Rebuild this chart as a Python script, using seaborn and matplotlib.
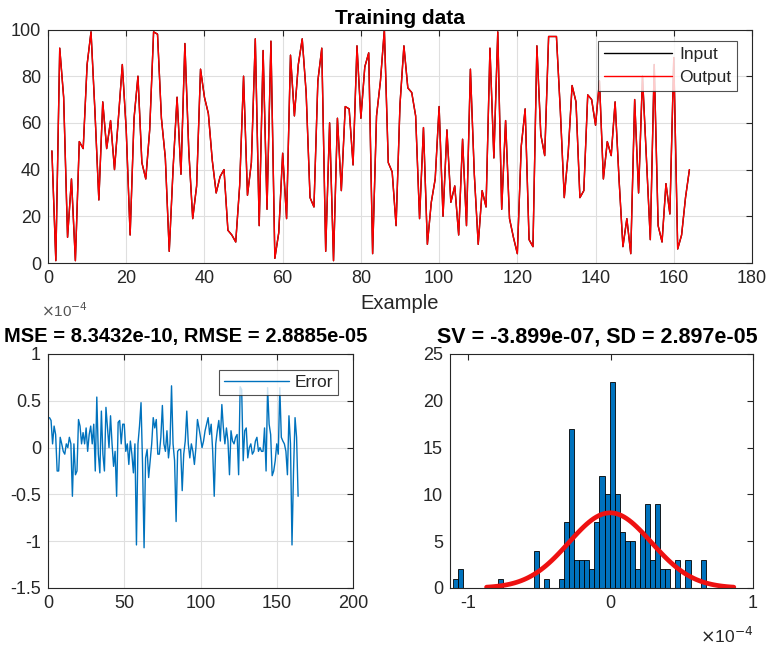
import numpy as np
import pandas as pd
import matplotlib
matplotlib.use("Agg")
import matplotlib.pyplot as plt
import seaborn as sns

# ---------------- data ----------------
example_idx = list(range(1, 165))

output_vals = [
    48, 1, 92, 71, 11, 36, 1, 52, 49, 85,
    99, 65, 27, 69, 49, 61, 40, 62, 85, 57,
    12, 62, 80, 43, 36, 57, 99, 98, 62, 45,
    5, 41, 71, 38, 94, 48, 19, 33, 83, 71,
    64, 44, 30, 37, 40, 14, 12, 9, 33, 80,
    29, 43, 96, 16, 91, 23, 95, 2, 13, 47,
    19, 89, 63, 85, 96, 73, 28, 24, 78, 92,
    5, 60, 1, 62, 31, 67, 66, 42, 93, 62,
    84, 90, 4, 63, 78, 100, 43, 39, 16, 68,
    93, 75, 73, 63, 19, 58, 8, 26, 36, 67,
    20, 57, 26, 33, 12, 53, 16, 83, 38, 8,
    31, 24, 92, 45, 99, 23, 61, 19, 11, 4,
    50, 66, 10, 7, 93, 55, 46, 97, 97, 97,
    65, 28, 47, 76, 69, 28, 31, 72, 70, 59,
    78, 36, 52, 46, 69, 36, 7, 19, 4, 70,
    30, 80, 45, 10, 85, 16, 9, 34, 21, 88,
    6, 12, 28, 40,
]
# the Input trace lies exactly under the Output trace in the reference
input_vals = list(output_vals)

# reconstruction error, in units of 1e-4
error_e4 = [
    0.32, 0.29, 0.04, 0.23, 0.14, -0.25, -0.25, 0.11, 0.04, -0.04,
    -0.07, 0.04, 0.00, 0.11, 0.04, -0.52, 0.04, -0.29, -0.25, 0.30,
    0.23, 0.04, 0.16, 0.04, 0.21, -0.04, 0.14, 0.23, 0.04, 0.25,
    -0.25, 0.54, -0.07, -0.27, 0.39, -0.07, -0.25, 0.43, 0.21, 0.00,
    0.34, 0.04, -0.20, -0.04, -0.52, 0.27, 0.29, 0.04, 0.25, 0.25,
    -0.04, 0.04, -0.18, 0.07, -0.07, -0.27, 0.04, -1.04, 0.04, 0.23,
    0.48, -0.18, -1.07, -0.11, -0.02, -0.32, -0.14, 0.04, 0.32, 0.21,
    0.30, -0.07, -0.07, 0.11, 0.45, 0.04, -0.04, 0.18, -0.11, 0.04,
    0.66, 0.04, -0.14, -0.79, -0.04, -0.02, -0.02, -0.46, -0.07,
    0.07, 0.39, 0.04, -0.11, 0.04, -0.04, -0.18, 0.00, 0.30, 0.21,
    0.11, 0.00, 0.07, 0.18, 0.25, 0.32, 0.14, 0.25, -0.04, -0.52,
    0.04, 0.18, 0.29, 0.07, 0.46, 0.21, 0.04, 0.21, 0.07, -0.29,
    0.18, 0.07, 0.04, 0.11, 0.14, -0.29, 0.65, 0.62, -0.14, 0.18,
    0.21, -0.11, 0.00, 0.04, -0.07, -0.04, 0.07, 0.11, -0.04,
    0.00, -0.04, -0.04, 0.21, -0.25, 0.64, 0.25, 0.14, -0.30, -0.25,
    -0.14, 0.04, -0.07, 0.64, 0.11, 0.07, 0.04, -0.04, -0.29, 0.34,
    0.04, -1.04, -0.25, 0.32, 0.11, -0.52,
]

# histogram of the error (50 bins), counts per bin
hist_counts = [
    1, 2, 0, 0, 0, 0, 0, 0, 0, 1,
    0, 0, 0, 0, 0, 0, 4, 0, 1, 0,
    0, 1, 7, 17, 3, 3, 3, 2, 7, 12,
    10, 22, 10, 6, 5, 5, 2, 6, 9, 3,
    9, 2, 2, 0, 3, 0, 3, 0, 0, 3,
]
hist_lo_e4 = -1.111      # first bin edge (x1e-4)
hist_width_e4 = 0.03557  # bin width (x1e-4)

fit_mean = -3.899e-07
fit_sd = 2.897e-05

title_top = "Training data"
title_err = "MSE = 8.3432e-10, RMSE = 2.8885e-05"
title_hist = "SV = -3.899e-07, SD = 2.897e-05"

# ---------------- style ----------------
sns.set_style("white")
plt.rcParams['font.family'] = ['Liberation Sans', 'DejaVu Sans']
plt.rcParams['axes.unicode_minus'] = False

AX_COL = '#262626'
GRID_COL = '#dfdfdf'
BLUE = '#0072BD'

W, H = 774, 651
fig = plt.figure(figsize=(W / 100, H / 100), dpi=100)

def px_axes(l, t, r, b):
    return fig.add_axes([l / W, 1 - b / H, (r - l) / W, (b - t) / H])

ax1 = px_axes(48, 29.5, 752, 263)
ax2 = px_axes(48, 354, 353, 588)
ax3 = px_axes(450, 354, 753, 588)

def style_axes(ax, grid=True):
    for s in ax.spines.values():
        s.set_color(AX_COL)
        s.set_linewidth(0.8)
    ax.tick_params(direction='in', top=True, right=True, length=4, width=0.8,
                   colors=AX_COL, labelsize=13, pad=5)
    if grid:
        ax.grid(True, color=GRID_COL, lw=0.8)
        ax.set_axisbelow(True)
    else:
        ax.grid(False)

# ---------------- top: training data ----------------
df_top = pd.DataFrame({'Example': example_idx, 'Input': input_vals, 'Output': output_vals})
sns.lineplot(data=df_top, x='Example', y='Input', ax=ax1, color='black', lw=1.0, label='Input')
sns.lineplot(data=df_top, x='Example', y='Output', ax=ax1, color='red', lw=1.0, label='Output')
ax1.set_xlim(0, 180)
ax1.set_ylim(0, 100)
ax1.set_xticks(range(0, 181, 20))
ax1.set_yticks(range(0, 101, 20))
style_axes(ax1)
ax1.set_title(title_top, fontweight='bold', fontsize=15, pad=4, color='black')
ax1.set_xlabel('Example', fontsize=14.5, color=AX_COL, labelpad=5)
ax1.set_ylabel('')
leg1 = ax1.legend(loc='upper right', bbox_to_anchor=(0.979, 0.952), borderaxespad=0,
                  fancybox=False, frameon=True, edgecolor=AX_COL, fontsize=12.5,
                  handlelength=3.9, handletextpad=0.4, borderpad=0.35, labelspacing=0.45)
leg1.get_frame().set_linewidth(0.8)

# ---------------- bottom-left: error ----------------
sns.lineplot(x=example_idx, y=error_e4, ax=ax2, color=BLUE, lw=1.0, label='Error')
ax2.set_xlim(0, 200)
ax2.set_ylim(-1.5, 1)
ax2.set_xticks([0, 50, 100, 150, 200])
ax2.set_yticks([-1.5, -1, -0.5, 0, 0.5, 1])
ax2.set_yticklabels(['-1.5', '-1', '-0.5', '0', '0.5', '1'])
style_axes(ax2)
ax2.text(-0.023, 1.145, r'$\times$10$^{-4}$', transform=ax2.transAxes, ha='left', va='bottom',
         fontsize=11, color='#555555')
ax2.set_title(title_err, fontweight='bold', fontsize=14.5, pad=8.5, x=0.452, color='black')
ax2.set_xlabel('')
ax2.set_ylabel('')
leg2 = ax2.legend(loc='upper right', bbox_to_anchor=(0.952, 0.932), borderaxespad=0,
                  fancybox=False, frameon=True, edgecolor=AX_COL, fontsize=12.5,
                  handlelength=3.7, handletextpad=0.35, borderpad=0.3)
leg2.get_frame().set_linewidth(0.8)

# ---------------- bottom-right: histogram with normal fit ----------------
edges = [hist_lo_e4 + hist_width_e4 * i for i in range(len(hist_counts) + 1)]
centers = [(edges[i] + edges[i + 1]) / 2 for i in range(len(hist_counts))]
df_hist = pd.DataFrame({'err': centers, 'count': hist_counts})
sns.histplot(data=df_hist, x='err', weights='count', bins=edges, ax=ax3, color=BLUE,
             edgecolor='black', linewidth=0.6, alpha=1.0, stat='count')

n_total = sum(hist_counts)
mu_e4 = fit_mean * 1e4
sd_e4 = fit_sd * 1e4
fit_x = np.linspace(mu_e4 - 3 * sd_e4, mu_e4 + 3 * sd_e4, 100)
fit_y = n_total * hist_width_e4 * np.exp(-0.5 * ((fit_x - mu_e4) / sd_e4) ** 2) / (sd_e4 * np.sqrt(2 * np.pi))
sns.lineplot(x=fit_x, y=fit_y, ax=ax3, color='#ee1111', lw=3.4)

ax3.set_xlim(-1.13, 1.0)
ax3.set_ylim(0, 25)
ax3.set_xticks([-1, 0, 1])
ax3.set_xticklabels(['-1', '0', '1'])
ax3.set_yticks(range(0, 26, 5))
style_axes(ax3, grid=False)
ax3.set_title(title_hist, fontweight='bold', fontsize=15.5, pad=8.5, x=0.485, color='black')
ax3.set_xlabel('')
ax3.set_ylabel('')
ax3.text(1.0, -0.16, r'$\times$10$^{-4}$', transform=ax3.transAxes, ha='right', va='top',
         fontsize=12.5, color=AX_COL)

fig.savefig('out.png', dpi=100)
